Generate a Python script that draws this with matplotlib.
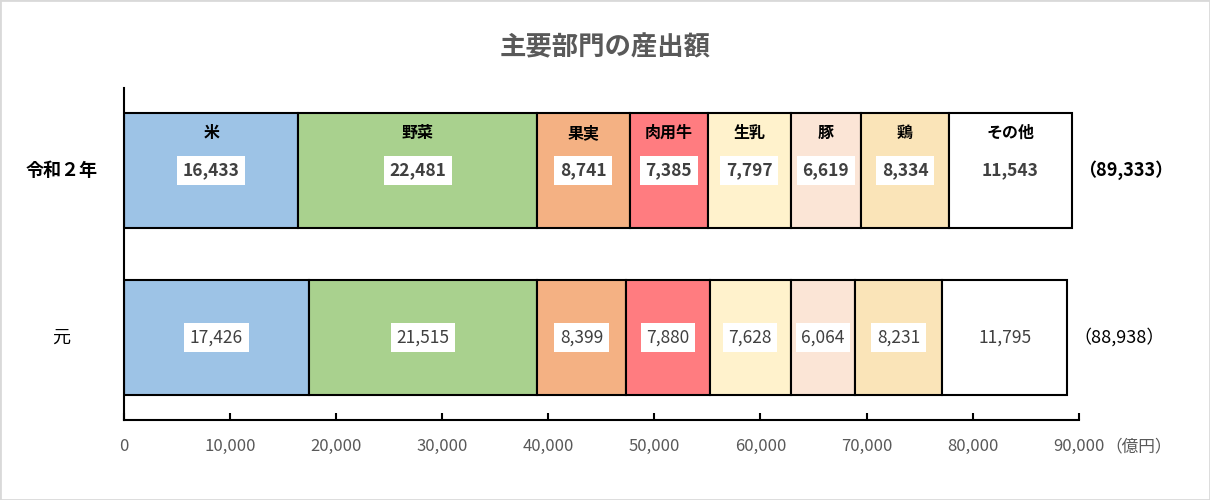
import matplotlib.pyplot as plt
from matplotlib.patches import Rectangle

plt.rcParams['font.family'] = ['Noto Sans CJK JP', 'DejaVu Sans']

# 主要部門の産出額（億円）
categories = ['米', '野菜', '果実', '肉用牛', '生乳', '豚', '鶏', 'その他']
years = ['元', '令和２年']
vals_r1 = [17426, 21515, 8399, 7880, 7628, 6064, 8231, 11795]
vals_r2 = [16433, 22481, 8741, 7385, 7797, 6619, 8334, 11543]
totals = ['（88,938）', '（89,333）']
xticks = [0, 10000, 20000, 30000, 40000, 50000, 60000, 70000, 80000, 90000]

colors = ['#9DC3E6', '#A9D18E', '#F4B183', '#FF7C80',
          '#FFF2CC', '#FBE5D6', '#FAE4B8', '#FFFFFF']

fig = plt.figure(figsize=(12.1, 5), dpi=100)
fig.patches.append(Rectangle((0, 0), 1, 1, transform=fig.transFigure,
                             fill=False, edgecolor='#D9D9D9', linewidth=2))
ax = fig.add_axes([0.1025, 0.16, 0.789, 0.664])

h = 0.69
for yi, vals in enumerate([vals_r1, vals_r2]):
    left = 0
    bold = (yi == 1)
    for c, v, col in zip(categories, vals, colors):
        ax.barh(yi, v, left=left, height=h, color=col, edgecolor='black', linewidth=1.5)
        cx = left + v / 2
        box = None if col == '#FFFFFF' else dict(facecolor='white', edgecolor='none', pad=4)
        ax.text(cx, yi, f'{v:,}', ha='center', va='center',
                fontsize=12.5, color='#404040', fontweight='bold' if bold else 'normal',
                bbox=box)
        if bold:
            ax.text(cx, yi + 0.225, c, ha='center', va='center',
                    fontsize=11.5, color='black', fontweight='bold')
        left += v
    ax.text(left + 600, yi, totals[yi], ha='left', va='center', fontsize=13,
            color='black', fontweight='bold' if bold else 'normal')
    ax.text(-5900, yi, years[yi], ha='center', va='center', fontsize=13,
            color='black', fontweight='bold' if bold else 'normal')

ax.set_xlim(0, 90000)
ax.set_ylim(-0.494, 1.494)
ax.set_xticks(xticks)
ax.set_xticklabels([f'{t:,}' for t in xticks])
ax.tick_params(axis='x', direction='in', length=5, width=1.5, colors='black',
               labelcolor='#595959', labelsize=12, pad=13)
ax.set_yticks([])
for s in ['top', 'right']:
    ax.spines[s].set_visible(False)
for s in ['left', 'bottom']:
    ax.spines[s].set_linewidth(1.5)
ax.annotate('（億円）', xy=(90000, -0.494), xytext=(19, -13),
            textcoords='offset points', ha='left', va='top',
            fontsize=12, color='#595959', annotation_clip=False)

fig.text(0.5, 0.905, '主要部門の産出額', ha='center', va='center',
         fontsize=19, color='#595959', fontweight='bold')

fig.savefig('out.png', dpi=100)
